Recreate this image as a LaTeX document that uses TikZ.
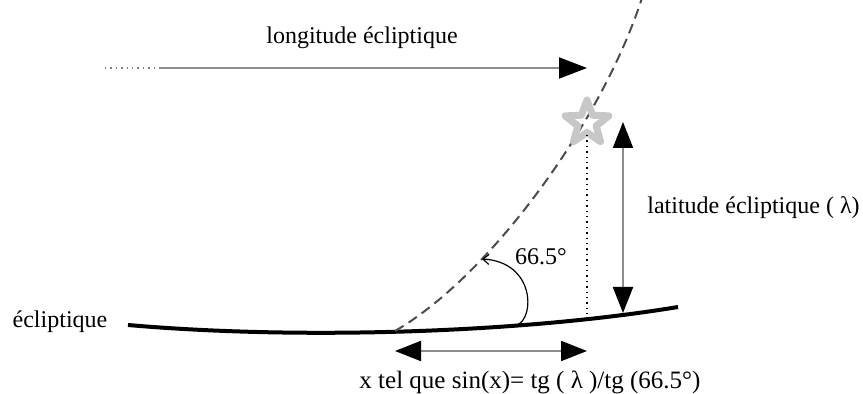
\documentclass[tikz,border=0pt]{standalone}
\usepackage{fontspec}
\setmainfont{Liberation Serif}
\usepackage{tikz}
\usetikzlibrary{positioning}
\usetikzlibrary{arrows.meta,shapes.geometric}

\begin{document}
\begin{tikzpicture}[x=0.5pt, y=-0.5pt, font=\fontsize{12}{14}\selectfont]
\tikzstyle{txt}=[
                  inner sep=0pt,
                  anchor=center]

\tikzstyle{measure}=[
                  draw=black!45,
                  line width=1pt]

\tikzstyle{bighead}=[
                  {Triangle[length=13pt,width=10pt,color=black]}-{Triangle[length=13pt,width=10pt,color=black]}]

\useasboundingbox (0,0) rectangle (863,394);

% ecliptic
\coordinate (eclA) at (128,325);
\coordinate (eclB) at (678,307);
\draw [line width=2pt] (eclA) .. controls (300,340) and (520,333) .. (eclB);
\node[txt] (eclname) at (60,322) {écliptique};

% equator, dashed
\coordinate (asc) at (395,331);
\coordinate (eqtop) at (642,-2);
\draw [black!70,line width=1pt,dash pattern=on 5pt off 3pt] (asc) .. controls (490,276) and (602,122) .. (eqtop);

% the star
\node[star, star points=5, star point ratio=2.4, minimum size=23pt, draw=black!22,
      line width=3.5pt, line join=round] (etoile) at (587,123) {};

\coordinate (starlow) at (587,135);
\coordinate (foot)    at (587,314);
\draw [dotted,line width=0.7pt] (starlow) -- (foot);

% latitude
\coordinate (latT) at (623,122);
\coordinate (latB) at (623,313);
\draw [measure,bighead] (latT) -- (latB);
\node[txt,anchor=west] (latname) at (647,208) {latitude écliptique ( λ)};

% longitude
\coordinate (lonA) at (105,68);
\coordinate (lonB) at (160,68);
\coordinate (lonC) at (587,68);
\draw [dotted,black!50,line width=0.7pt] (lonA) -- (lonB);
\draw [measure,-{Triangle[length=14pt,width=10.5pt,color=black]}] (lonB) -- (lonC);
\node[txt] (lonname) at (362,38) {longitude écliptique};

% angle
\coordinate (angA) at (517,325);
\coordinate (angB) at (482,259);
\draw [line width=0.6pt,-{Straight Barb[length=3pt,width=5pt]}] (angA) .. controls (535,318) and (535,262) .. (angB);
\node[txt] (angname) at (541,257) {66.5°};

% x
\coordinate (xA) at (395,351);
\coordinate (xB) at (587,351);
\draw [measure,bighead] (xA) -- (xB);
\node[txt,font=\fontsize{12.5}{14}\selectfont] (xname) at (530,382) {x tel que sin(x)= tg ( λ )/tg (66.5°)};

\end{tikzpicture}
\end{document}
